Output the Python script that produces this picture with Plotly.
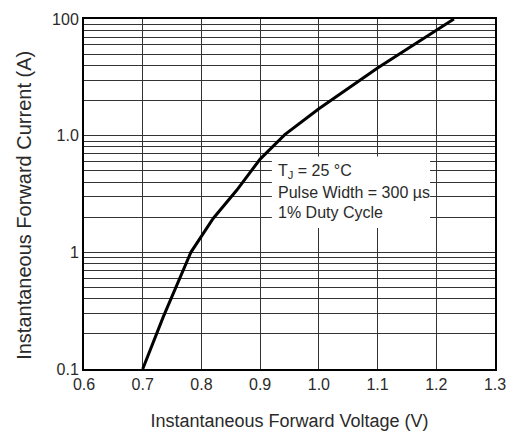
import plotly.graph_objects as go

# Data
voltage = [0.70, 0.735, 0.782, 0.82, 0.86, 0.90, 0.942, 1.00, 1.10, 1.23]
current = [0.10, 0.28, 1.00, 1.95, 3.4, 6.3, 10.2, 17.0, 38.0, 100.0]

x_ticks = [0.6, 0.7, 0.8, 0.9, 1.0, 1.1, 1.2, 1.3]
x_ticktext = ["0.6", "0.7", "0.8", "0.9", "1.0", "1.1", "1.2", "1.3"]
y_major = [0.1, 1, 10, 100]
y_major_text = ["0.1", "1", "1.0", "100"]

x_title = "Instantaneous Forward Voltage (V)"
y_title = "Instantaneous Forward Current (A)"
note_lines = ["T<sub>J</sub> = 25 °C", "Pulse Width = 300 µs", "1% Duty Cycle"]

# build log tick list (majors labelled, minors blank to get grid lines)
y_tickvals, y_ticktext = [], []
for base, lab in zip(y_major, y_major_text):
    y_tickvals.append(base)
    y_ticktext.append(lab)
    if base < 100:
        for m in range(2, 10):
            y_tickvals.append(base * m)
            y_ticktext.append("")

font = "Liberation Sans, Arial, sans-serif"
txt_color = "#2a2a2a"

fig = go.Figure()
fig.add_trace(go.Scatter(x=voltage, y=current, mode="lines",
                         line=dict(color="black", width=3), showlegend=False))

fig.update_layout(
    width=512, height=431,
    margin=dict(l=84, r=17, t=19, b=62),
    paper_bgcolor="white", plot_bgcolor="white",
    font=dict(family=font, size=16, color=txt_color),
    xaxis=dict(range=[0.6, 1.3], tickvals=x_ticks, ticktext=x_ticktext,
               tickfont=dict(size=16, color=txt_color), automargin=False,
               showgrid=True, gridcolor="#333", gridwidth=1,
               showline=True, linecolor="black", linewidth=2, mirror=True,
               ticks="", zeroline=False,
               title=dict(text=x_title, standoff=22,
                          font=dict(size=18, color=txt_color))),
    yaxis=dict(type="log", range=[-1, 2], tickvals=y_tickvals, ticktext=y_ticktext,
               tickfont=dict(size=16, color=txt_color), automargin=False,
               showgrid=True, gridcolor="#333", gridwidth=1,
               showline=True, linecolor="black", linewidth=2, mirror=True,
               ticks="", zeroline=False),
)

# y-axis title (placed slightly below the plot centre, as in the reference)
fig.add_annotation(xref="paper", yref="paper", x=-0.146, y=0.469,
                   xanchor="center", yanchor="middle", textangle=-90,
                   text=y_title, showarrow=False,
                   font=dict(family=font, size=20, color=txt_color))

# white note box
fig.add_shape(type="rect", xref="paper", yref="paper",
              x0=0.457, x1=0.842, y0=0.403, y1=0.607,
              fillcolor="white", line=dict(width=0), layer="above")
ys = [0.564, 0.504, 0.446]
for txt, yy in zip(note_lines, ys):
    fig.add_annotation(xref="paper", yref="paper", x=0.467, y=yy,
                       xanchor="left", yanchor="middle", text=txt,
                       showarrow=False, font=dict(family=font, size=16, color=txt_color))

fig.write_html("out.html", config={"displayModeBar": False},
               post_script="document.body.style.margin='0';document.body.style.overflow='hidden';")
